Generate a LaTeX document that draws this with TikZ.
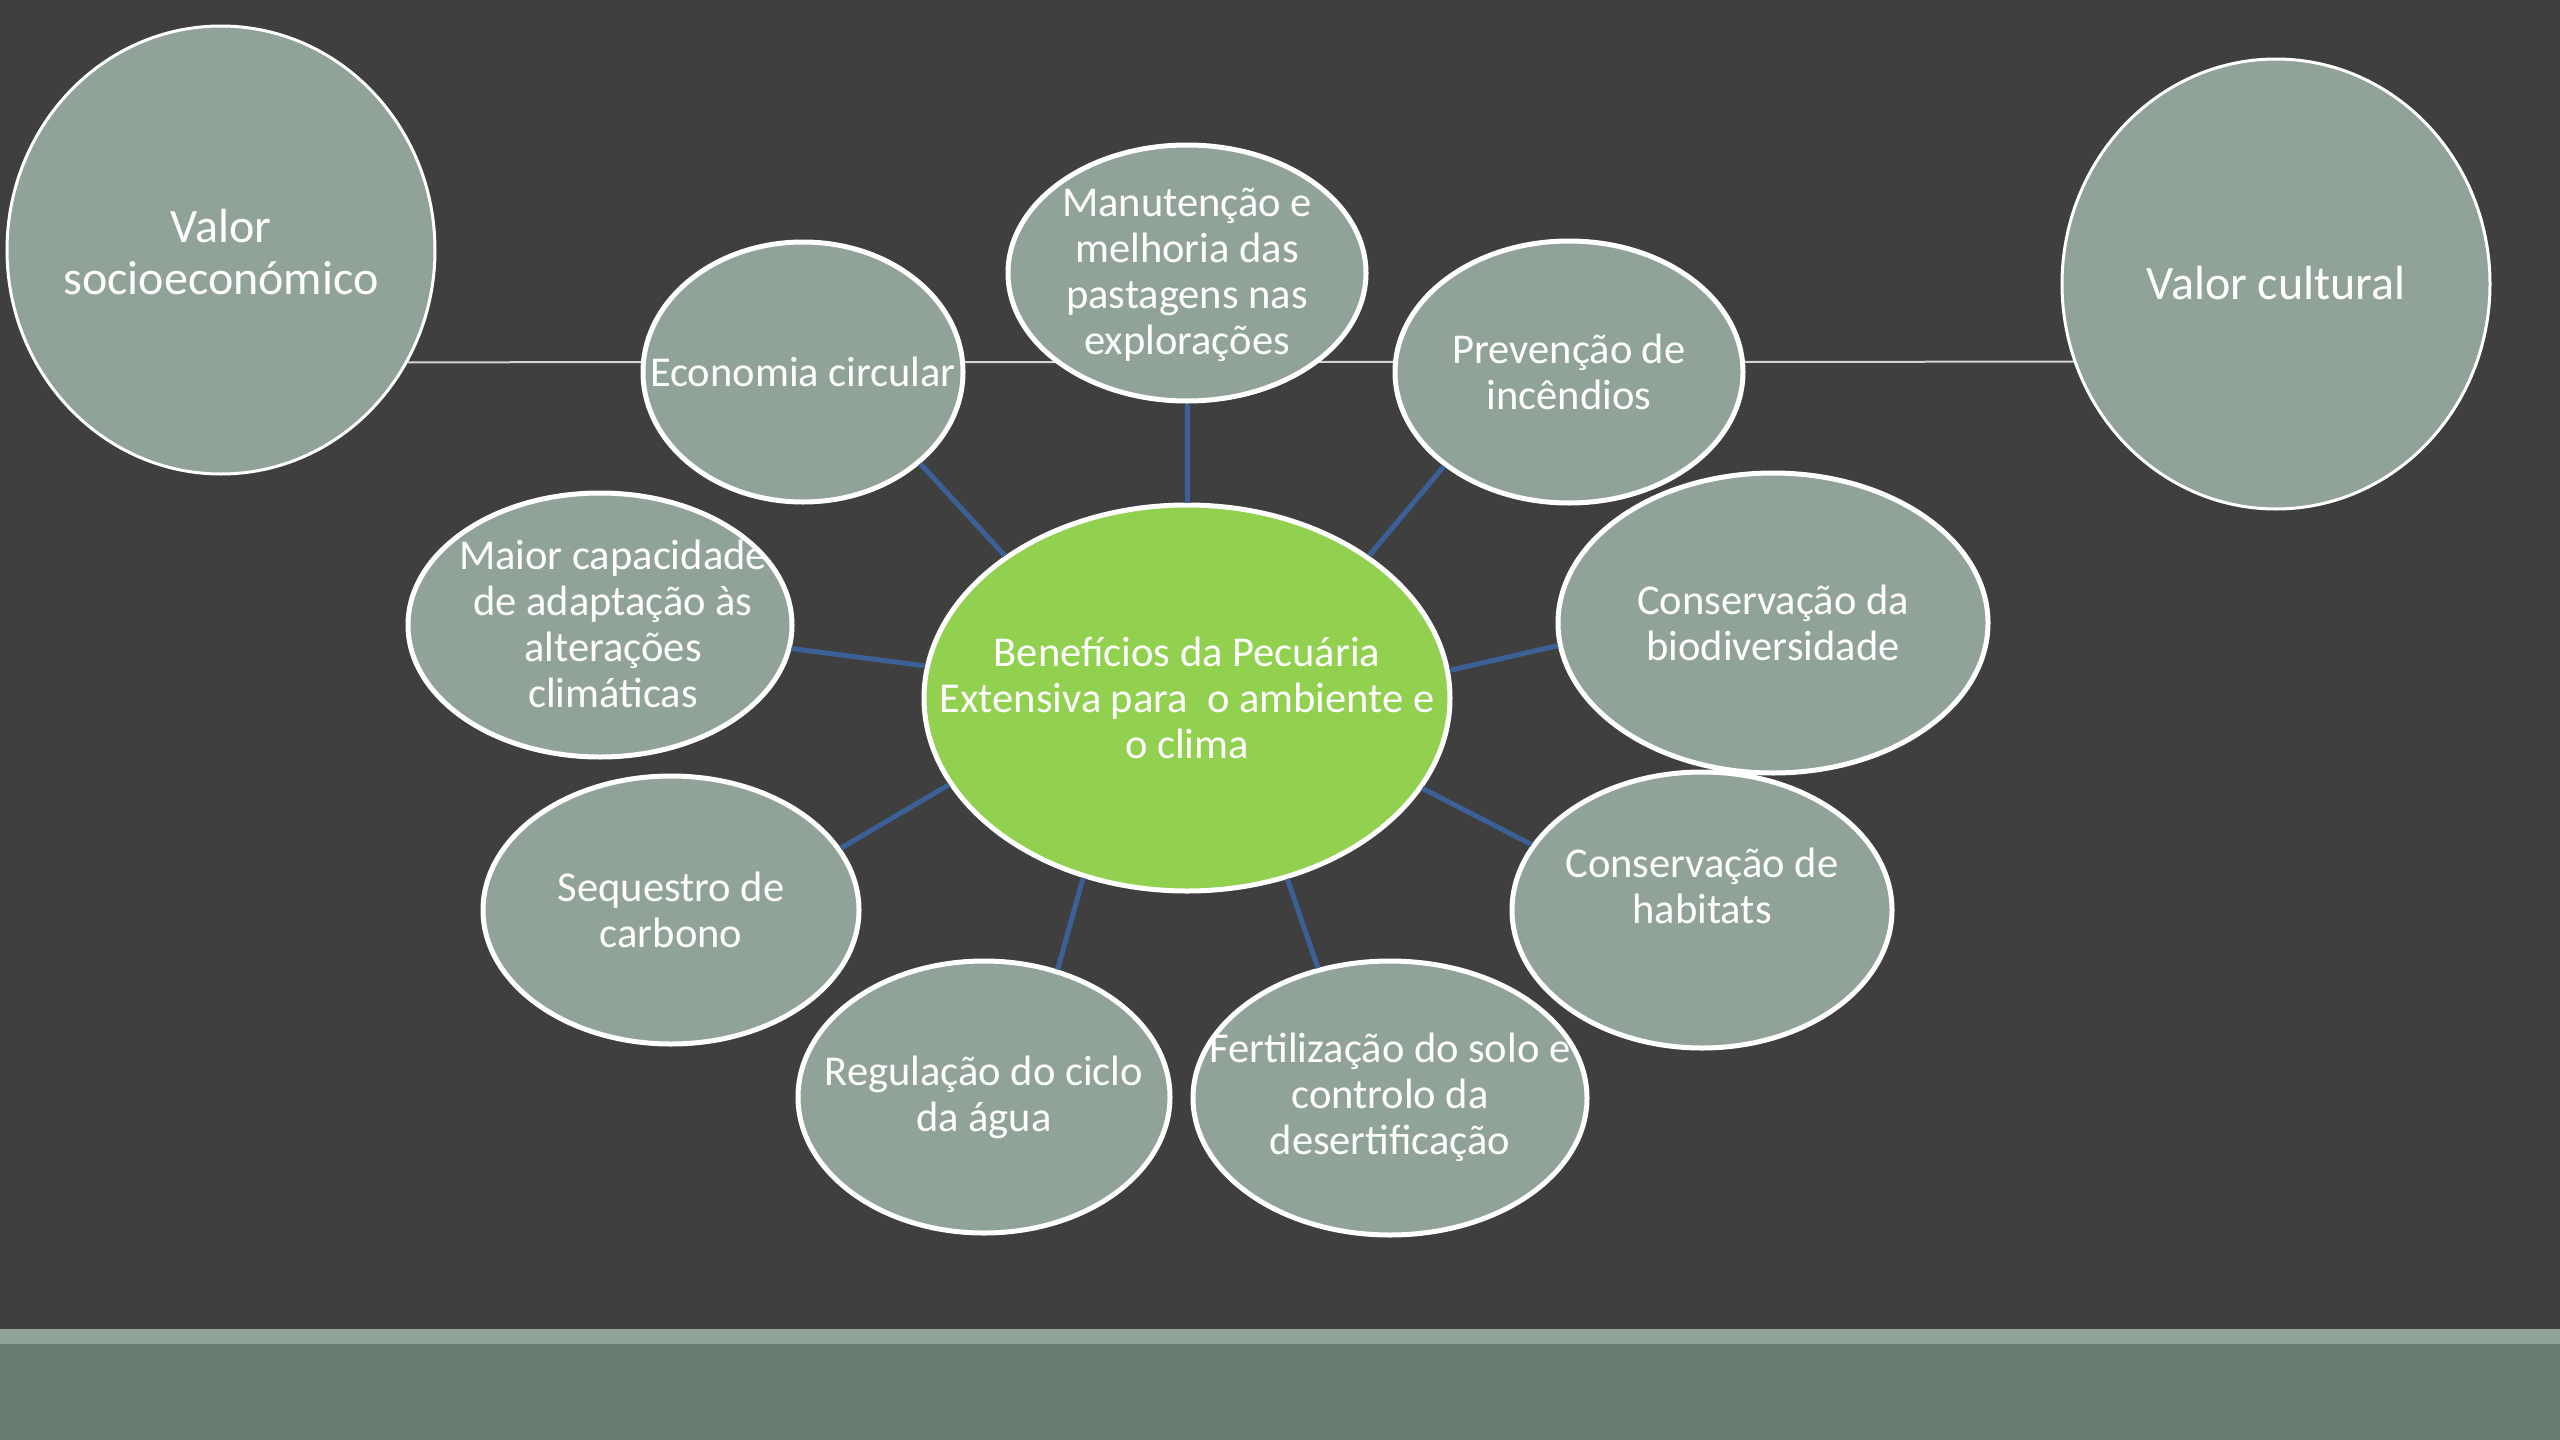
\documentclass[tikz,border=0pt]{standalone}
\usepackage{fontspec}
\setmainfont{Carlito}
\usetikzlibrary{shapes.geometric}
\pgfdeclarelayer{back}
\pgfdeclarelayer{bg}
\pgfsetlayers{back,bg,main}
\definecolor{bgc}{HTML}{3F3F3F}
\definecolor{bubfill}{HTML}{91A398}
\definecolor{cenfill}{HTML}{92D050}
\definecolor{conc}{HTML}{3B6096}
\definecolor{stripL}{HTML}{91A397}
\definecolor{stripD}{HTML}{6B7D71}
\definecolor{hline}{HTML}{D4D4D4}
\tikzset{
  bub/.style={ellipse, draw=white, line width=5pt, fill=bubfill, inner sep=0pt},
  bigbub/.style={ellipse, draw=white, line width=3pt, fill=bubfill, inner sep=0pt},
  cenbub/.style={ellipse, draw=white, line width=5pt, fill=cenfill, inner sep=0pt},
  txt/.style={text=white, align=center, inner sep=0pt, font=\fontsize{42.5}{46}\selectfont},
  bigtxt/.style={text=white, align=center, inner sep=0pt, font=\fontsize{48}{52}\selectfont},
  conn/.style={draw=conc, line width=5pt},
  thinline/.style={draw=hline, line width=2pt}
}
\begin{document}
\begin{tikzpicture}[x=1pt,y=-1pt]
\useasboundingbox (0,0) rectangle (2560,1440);
\begin{pgfonlayer}{back}
\fill[bgc] (0,0) rectangle (2560,1440);
\fill[stripL] (0,1329) rectangle (2560,1344);
\fill[stripD] (0,1344) rectangle (2560,1440);
\end{pgfonlayer}

% big outer bubbles
\node[bigbub, minimum width=428pt, minimum height=448pt] (socio) at (221,250) {};
\node[bigbub, minimum width=428pt, minimum height=450pt] (cult) at (2276,284) {};
\node[bigtxt] (socioT) at (221,252) {Valor\\socioeconómico};
\node[bigtxt] (cultT) at (2276,283) {Valor cultural};

% small bubbles
\node[bub, minimum width=320pt, minimum height=260pt] (econ) at (803,372) {};
\node[bub, minimum width=358pt, minimum height=256pt] (man) at (1187,273) {};
\node[bub, minimum width=348pt, minimum height=262pt] (prev) at (1569,372) {};
\node[bub, minimum width=384pt, minimum height=264pt] (maior) at (600,625) {};
\node[bub, minimum width=430pt, minimum height=300pt] (bio) at (1773,623) {};
\node[bub, minimum width=376pt, minimum height=268pt] (seq) at (671,910) {};
\node[bub, minimum width=380pt, minimum height=276pt] (hab) at (1702,910) {};
\node[bub, minimum width=372pt, minimum height=272pt] (reg) at (984,1097) {};
\node[bub, minimum width=394pt, minimum height=274pt] (fert) at (1390,1098) {};
\node[cenbub, minimum width=526pt, minimum height=386pt] (cen) at (1187,698) {};

% texts
\node[txt] (econT) at (803,372) {Economia circular};
\node[txt] (manT) at (1187,275) {Manutenção e\\melhoria das\\pastagens nas\\explorações};
\node[txt] (prevT) at (1569,372) {Prevenção de\\incêndios};
\node[txt] (maiorT) at (613,624) {Maior capacidade\\de adaptação às\\alterações\\climáticas};
\node[txt] (bioT) at (1773,623) {Conservação da\\biodiversidade};
\node[txt] (seqT) at (671,910) {Sequestro de\\carbono};
\node[txt] (habT) at (1702,886) {Conservação de\\habitats};
\node[txt] (regT) at (984,1097) {Regulação do ciclo\\da água};
\node[txt] (fertT) at (1390,1097) {Fertilização do solo e\\controlo da\\desertificação};
\node[txt] (cenT) at (1187,698) {Benefícios da Pecuária\\Extensiva para~ o ambiente e\\o clima};

% thin horizontal line behind bubbles
\begin{pgfonlayer}{bg}
\draw[thinline] (socio.-31.6) -- (cult.201.8);
\end{pgfonlayer}

% connectors
\draw[conn] (cen.142.2) -- (econ.322);
\draw[conn] (cen.90) -- (man.270);
\draw[conn] (cen.38.4) -- (prev.217.8);
\draw[conn] (cen.173.6) -- (maior.353.4);
\draw[conn] (cen.6.4) -- (bio.186.7);
\draw[conn] (cen.200.6) -- (seq.20.2);
\draw[conn] (cen.339.2) -- (hab.159.9);
\draw[conn] (cen.240.9) -- (reg.60.8);
\draw[conn] (cen.299.1) -- (fert.119.6);
\end{tikzpicture}
\end{document}
